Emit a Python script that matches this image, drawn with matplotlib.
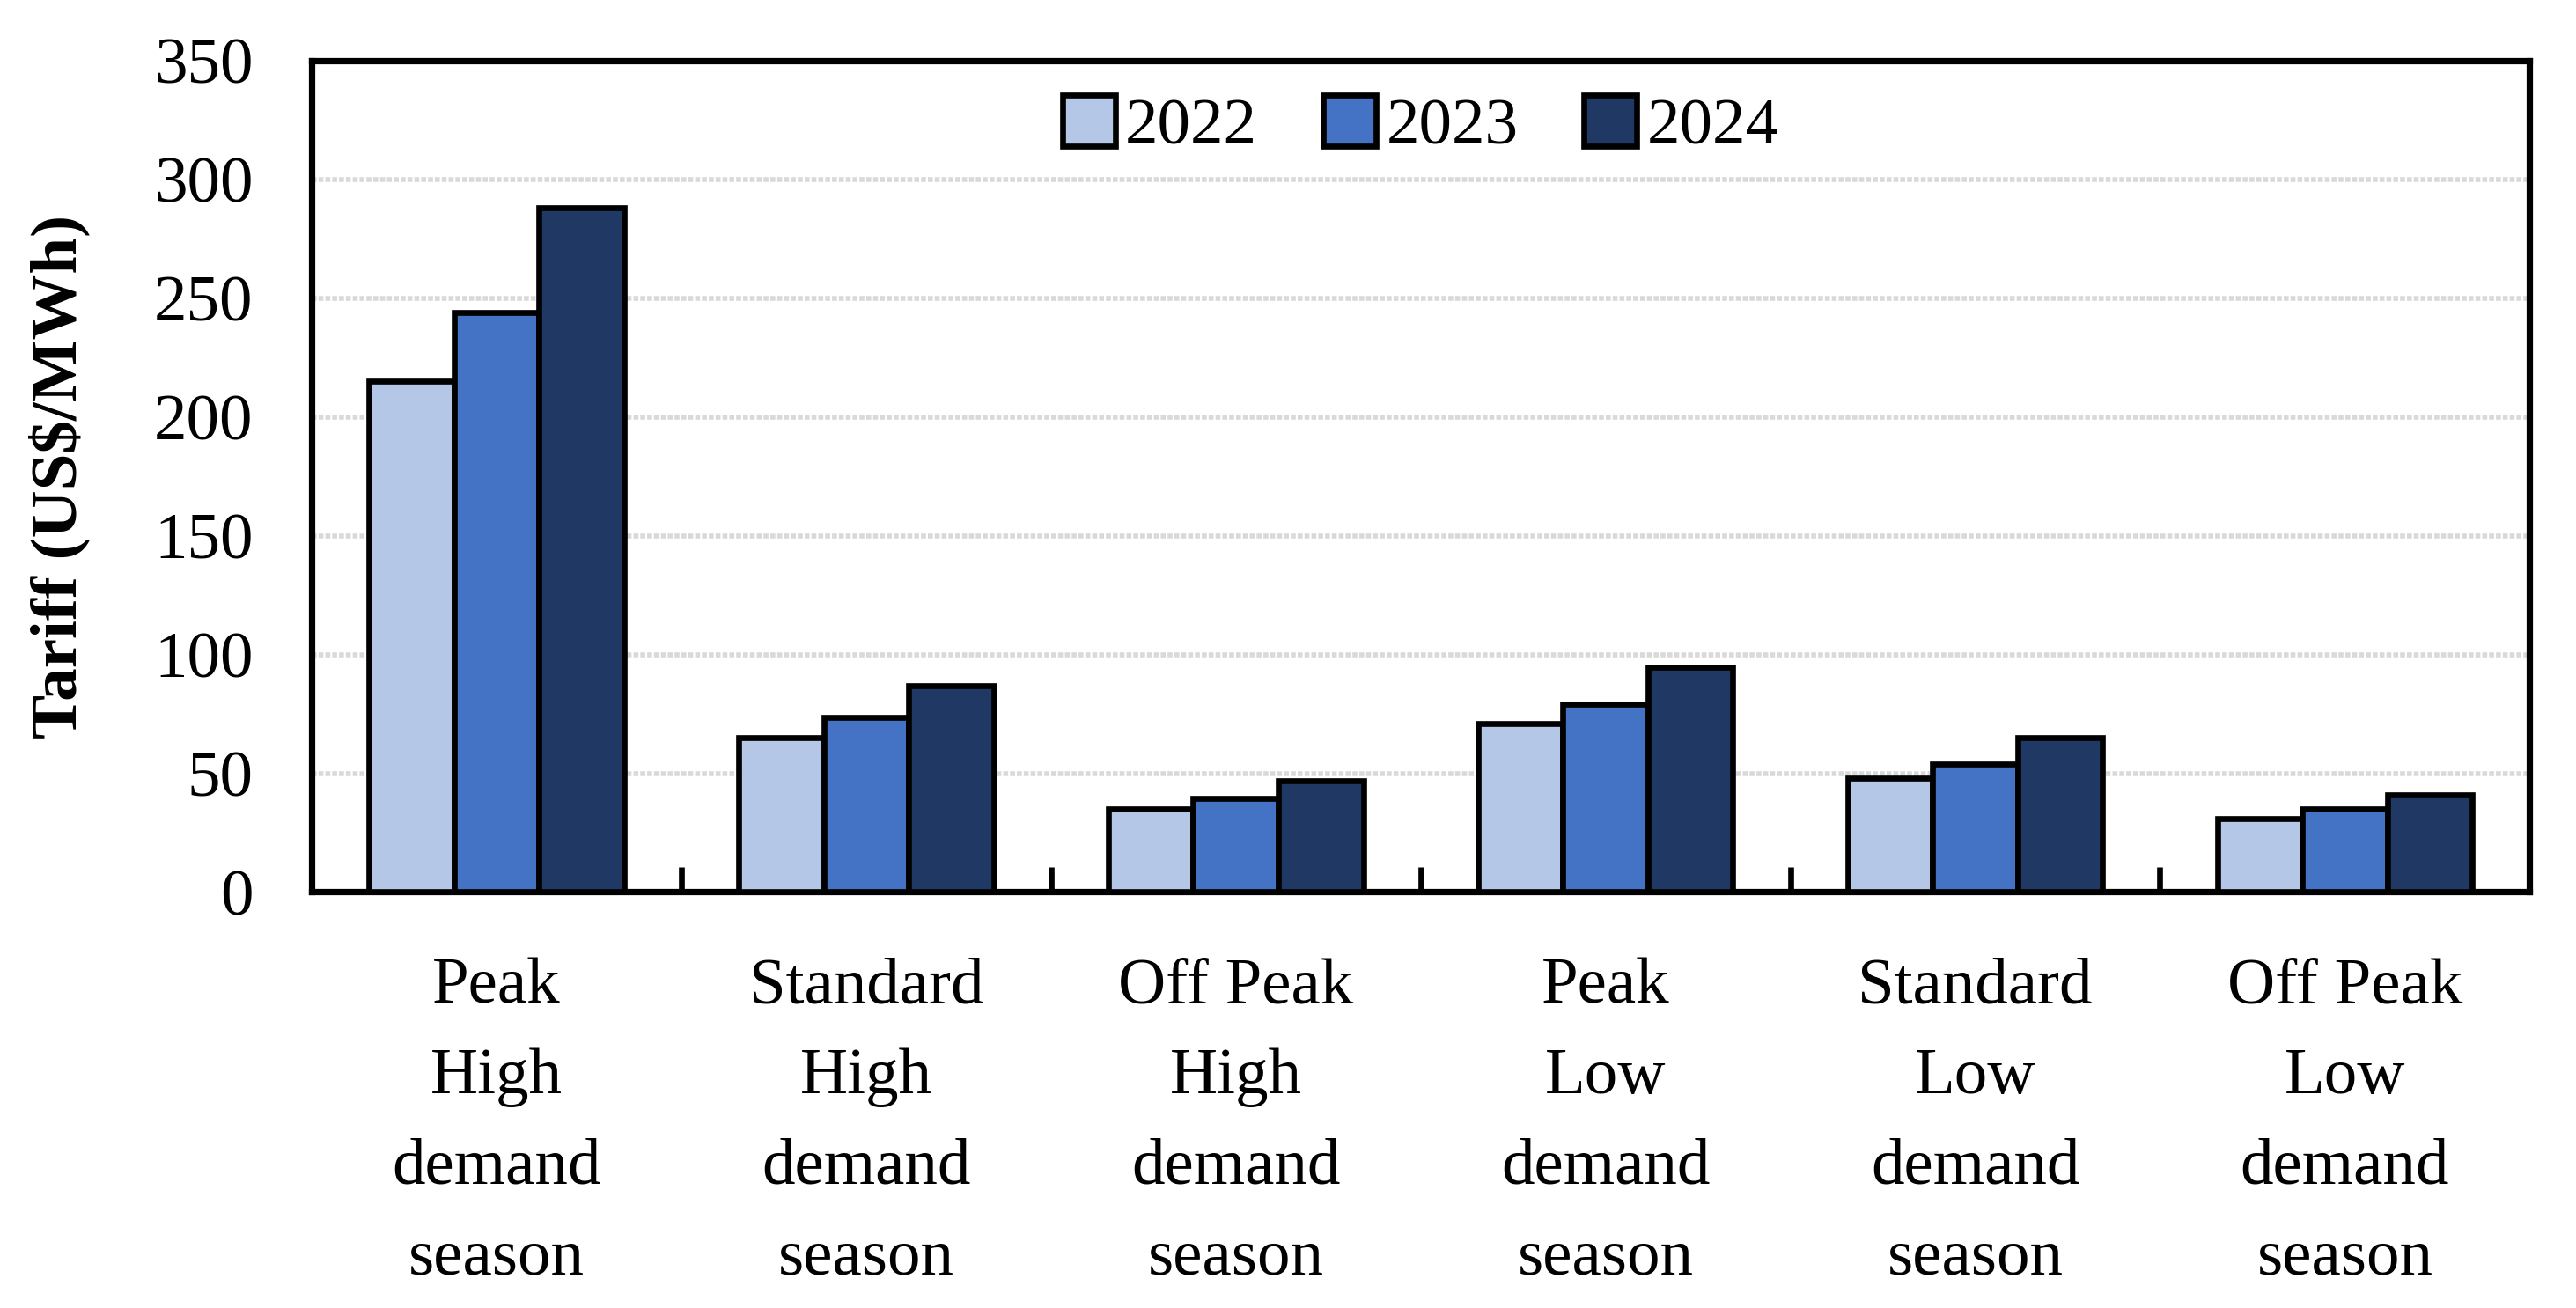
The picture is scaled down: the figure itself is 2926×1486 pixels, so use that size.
import numpy as np
import matplotlib.pyplot as plt

# Tariff by time-of-use period and season
categories = [
    "Peak\nHigh\ndemand\nseason",
    "Standard\nHigh\ndemand\nseason",
    "Off Peak\nHigh\ndemand\nseason",
    "Peak\nLow\ndemand\nseason",
    "Standard\nLow\ndemand\nseason",
    "Off Peak\nLow\ndemand\nseason",
]
years = ["2022", "2023", "2024"]
tariff_2022 = [215, 65, 35, 71, 48, 31]
tariff_2023 = [244, 73.5, 39.5, 79, 54, 35]
tariff_2024 = [288, 87, 47, 94.5, 65, 41]
colors = ["#B4C7E7", "#4472C4", "#203864"]

plt.rcParams['font.family'] = ['Liberation Serif', 'DejaVu Serif']

fig = plt.figure(figsize=(14.63, 7.43), dpi=200)
ax = fig.add_axes([0.121, 0.318, 0.861, 0.6355])

x = np.arange(len(categories))
w = 0.23
for i, (vals, c, yr) in enumerate(zip([tariff_2022, tariff_2023, tariff_2024], colors, years)):
    ax.bar(x + (i - 1) * w, vals, width=w, color=c, edgecolor="black",
           linewidth=2.4, label=yr, zorder=3)

ax.set_xlim(-0.5, len(categories) - 0.5)
ax.set_ylim(0, 350)
ax.set_yticks(np.arange(0, 351, 50))
ax.yaxis.grid(True, color="#d9d9d9", linestyle=(0, (1, 0.4)), linewidth=2.0, zorder=0)
ax.set_axisbelow(True)

ax.set_xticks(x)
ax.set_xticklabels(categories, fontsize=27, linespacing=1.68, va="top")
ax.tick_params(axis="x", which="major", length=0, pad=27)
ax.set_xticks(np.arange(0.5, len(categories) - 0.5, 1), minor=True)
ax.tick_params(axis="x", which="minor", direction="in", length=10, width=2.4, color="black")
ax.tick_params(axis="y", length=0, labelsize=27, pad=24)

for s in ax.spines.values():
    s.set_linewidth(2.6)

ax.set_ylabel("Tariff (US$/MWh)", fontsize=27, fontweight="bold", labelpad=26)

ax.legend(loc="upper center", bbox_to_anchor=(0.5, 1.03), ncol=3, frameon=False,
          fontsize=27, handlelength=0.8, handleheight=0.8, handletextpad=0.15,
          columnspacing=1.0)

fig.savefig("out.png", dpi=200)
